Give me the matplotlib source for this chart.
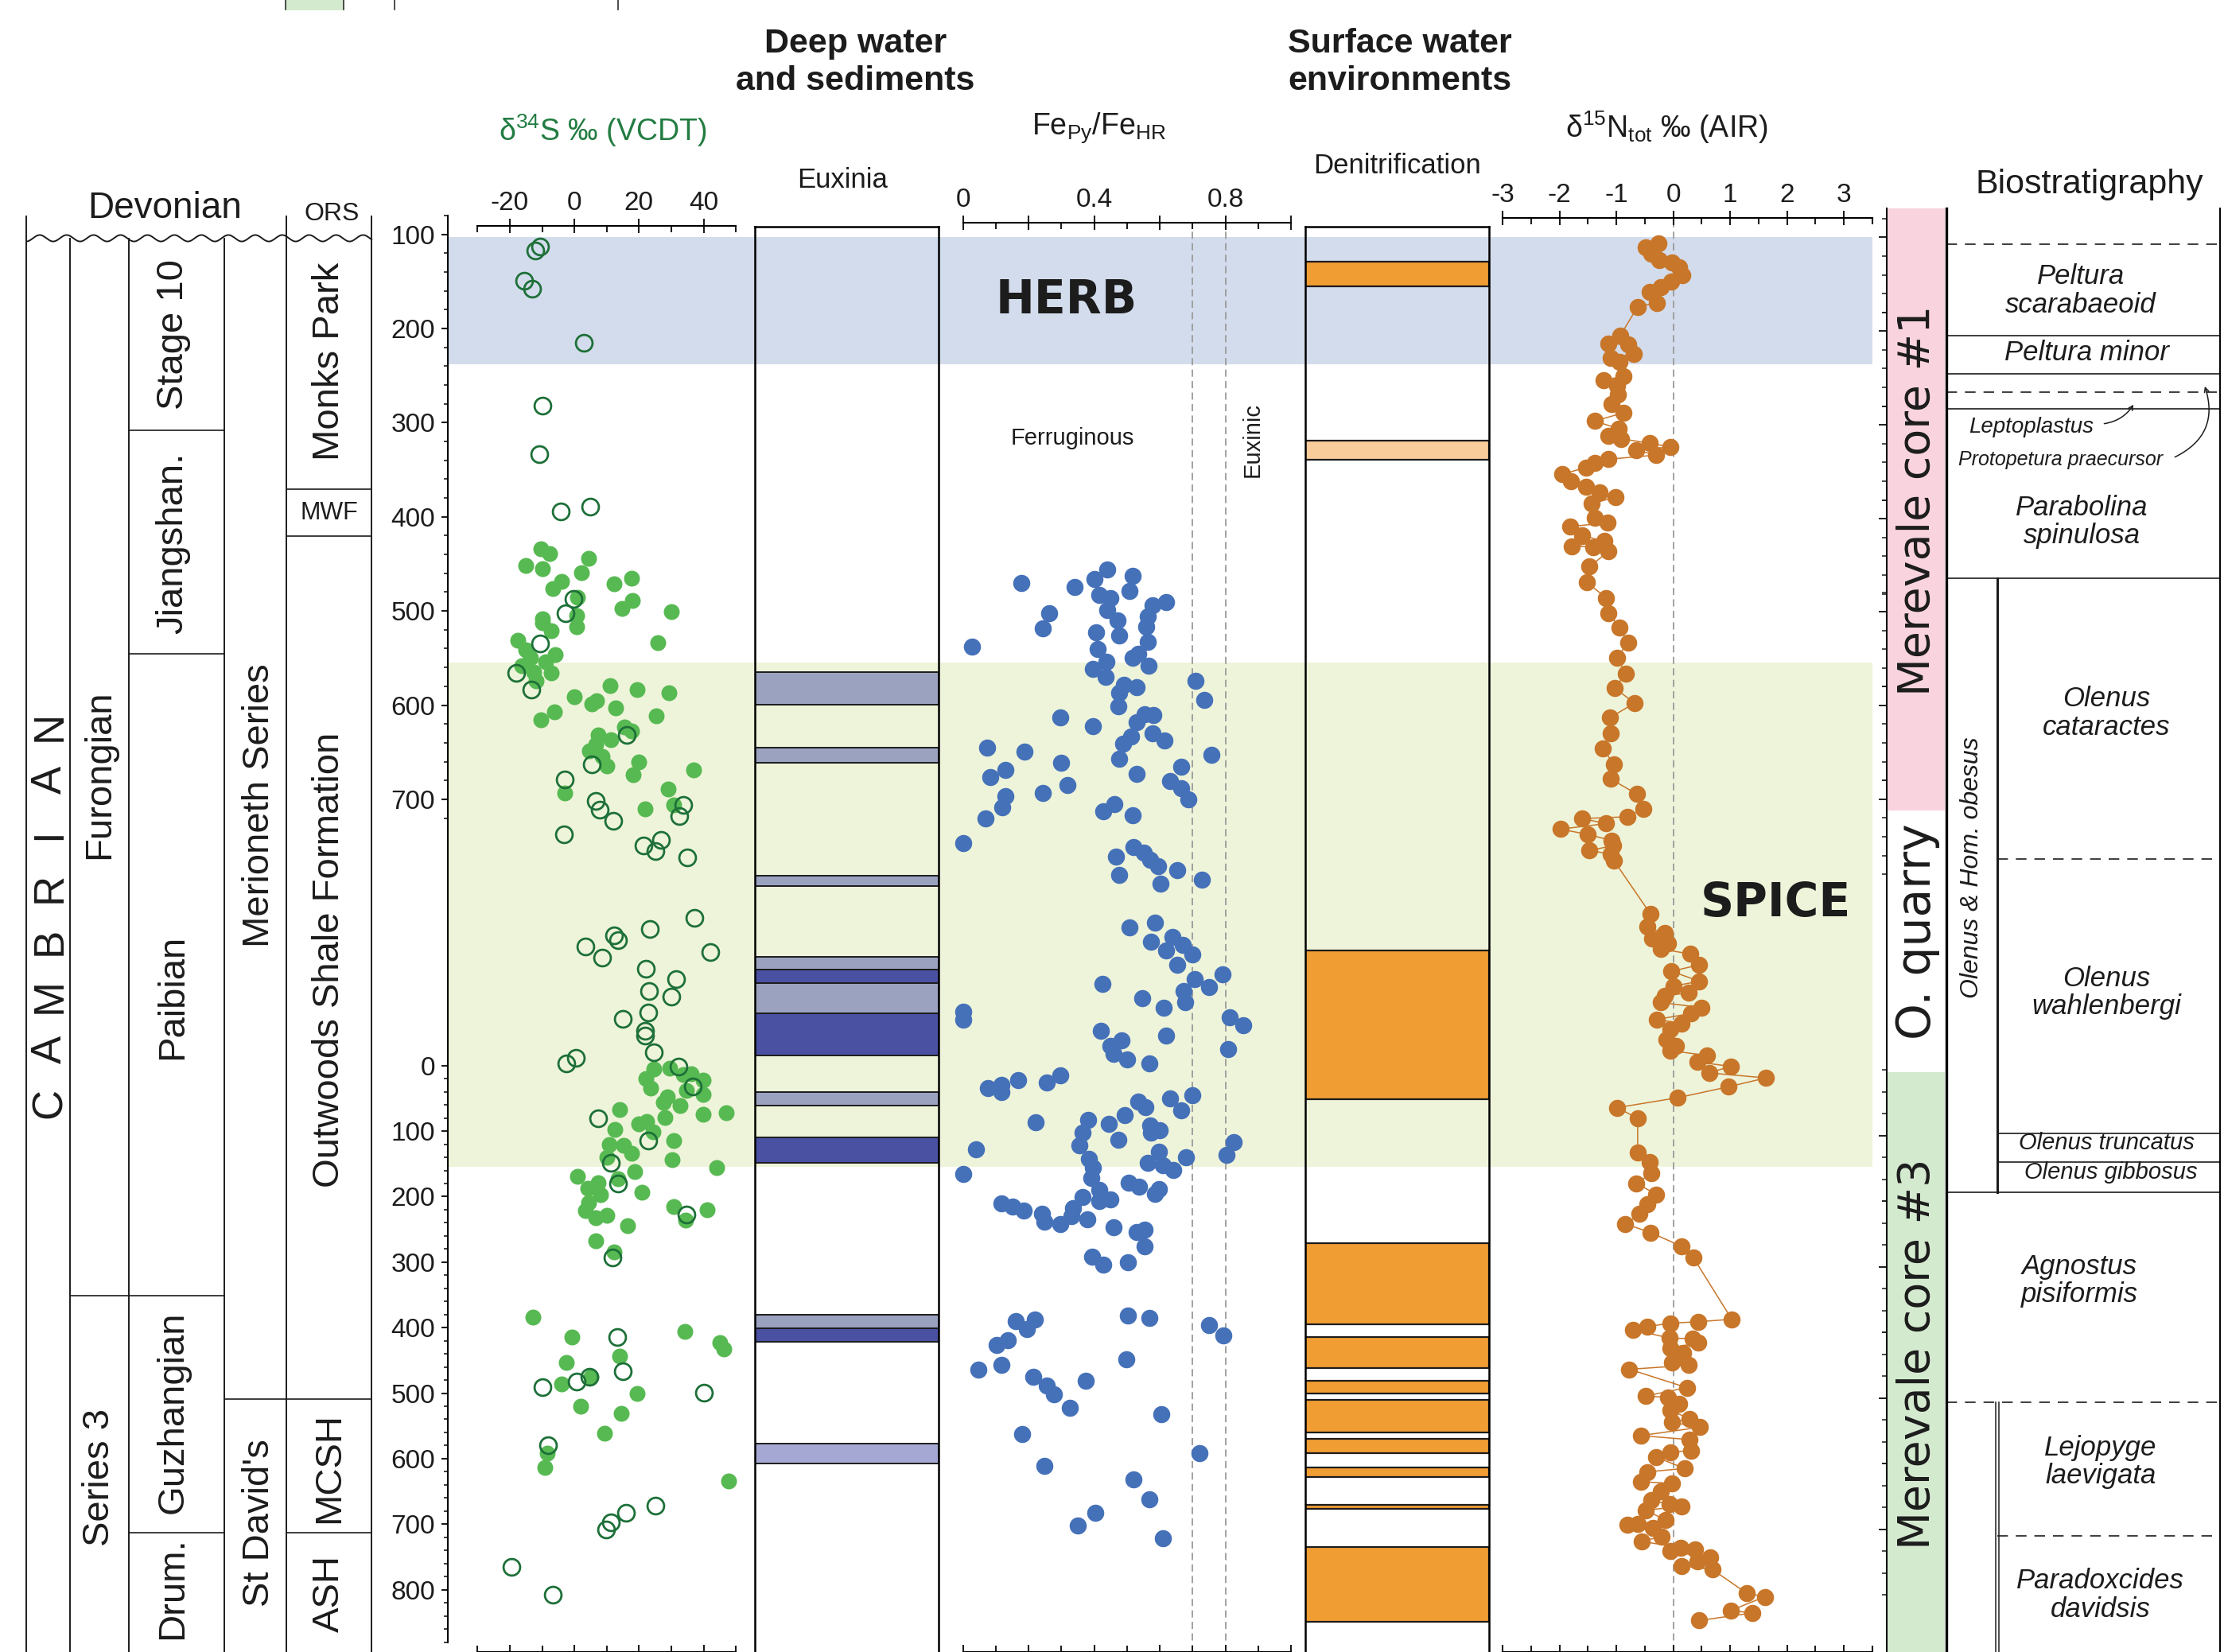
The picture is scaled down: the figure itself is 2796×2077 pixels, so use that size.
import numpy as np
import matplotlib.pyplot as plt

plt.rcParams['font.family'] = ['Liberation Sans', 'DejaVu Sans']
plt.rcParams['axes.unicode_minus'] = False
plt.rcParams['mathtext.fontset'] = 'custom'
plt.rcParams['mathtext.rm'] = 'Liberation Sans'
plt.rcParams['mathtext.it'] = 'Liberation Sans:italic'
plt.rcParams['text.color'] = '#1c1c1c'

# ---------------------------------------------------------------------------
# depth scale: upper section (Merevale core #1, quarry) plotted in its own
# units; lower section (Merevale core #3) has its own 0-800 scale
def lo(d):
    return 982.9 + 0.6958 * np.asarray(d, dtype=float)

depth_up_ticks = [100, 200, 300, 400, 500, 600, 700]
depth_lo_ticks = [0, 100, 200, 300, 400, 500, 600, 700, 800]

# event bands
herb = (107.5, 242.2)
spice = (556.4, float(lo(152.7)))

# d34S (depth, permil)  -- filled = pyrite, open = second phase
s34_fill_up = np.array([
    [437, -10.5], [442, -7.6], [454, -15], [458, -9.8], [446.5, 4.5], [462, 2.2], [471, -4.1],
    [479, -6.8], [474, 12.4], [468, 17.6], [491, 17.9], [488, 1], [500, 14.7], [503, 30.1],
    [507, 0.6], [511, -10], [515, -10], [523, -7.2], [519, 0.6], [533, -17.6], [543, -15],
    [552, -13.7], [556, -8.8], [548, -6], [560, -16.2], [567, -12.5], [568, -7.2], [536, 25.9],
    [576, -11.8], [581, 11], [585, 19.4], [589, 29.4], [593, 0], [597, 6.9], [600, 5.5],
    [605, 12.7], [609, -6.2], [617, -10.5], [613, 25.3], [625, 15.5], [629, 17.7], [633, 7.4],
    [638, 11.2], [643, 6.7], [650, 4.7], [656, 8.7], [666, 10], [662, 19.9], [675, 18.1],
    [670, 36.9], [694, -3.1], [690, 29], [711, 22], [707, 30.8]])
s34_fill_lo = np.array([
    [4, 24.5], [2.5, 29.6], [18, 22.2], [12, 33.7], [11, 36.1], [21, 39.8], [33, 23.7], [37, 34.7],
    [42, 39.8], [46, 28.8], [55, 27.5], [60, 32.7], [66, 14.1], [73, 39.8], [70, 46.9], [77, 28],
    [87, 19.8], [84, 22.5], [99, 24.3], [96, 12.6], [113, 30.8], [118, 10.8], [120, 15.3],
    [132, 17.7], [138, 10], [142, 30.2], [154, 44.1], [160, 18.7], [170, 13.6], [167, 1],
    [176, 7.3], [185, 4.1], [191, 20.8], [194, 8], [207, 4.5], [219, 3.4], [229, 6.5], [226, 10.1],
    [213, 30.8], [217, 41], [233, 34.5], [242, 16.5], [264, 6.5], [282, 12.4], [380, -12.9],
    [411, -0.8], [402, 34.3], [419, 45.1], [429, 46.2], [439, 14.1], [449, -2.5], [482, -3.9],
    [471, 5.1], [496, 19.4], [516, 2], [526, 14.6], [557, 9.2], [586, -8.4], [608, -9.1],
    [629, 47.8]])
s34_open_up = np.array([
    [118, -10.6], [122, -12.1], [154, -15.5], [162, -13.2], [219, 2.8], [286, -9.9], [337, -10.9],
    [397, -4.3], [392, 4.9], [490, -0.4], [505, -2.7], [537, -10.6], [568, -18], [585, -13.3],
    [633, 16.3], [664, 5.5], [680, -3.1], [703, 6.5], [712, 7.9], [724, 12], [707, 33.7],
    [719, 32.6], [738, -3.3], [750, 21.4], [744, 26.7], [756, 25.1], [762, 34.9], [826, 37.1],
    [838, 23.4], [856, 3.3], [845, 12.2], [850, 13.5], [868, 8.6], [862, 42.2], [880, 22.2],
    [891, 31.6], [903, 23], [909, 30.1], [926, 22.8], [933, 15], [945, 22], [950, 22],
    [968, 24.7], [980, -2.5], [974, 0.4]])
s34_open_lo = np.array([
    [0, 32.2], [30, 36.7], [79, 7.4], [113, 22.8], [146, 11.4], [178, 13.4], [290, 11.8],
    [225, 34.6], [410, 13.2], [462, 14.9], [487, -9.8], [478, 0.6], [471, 4.7], [575, -8.2],
    [495, 40], [666, 25.2], [677, 15.9], [691, 11.2], [702, 9.8], [759, -19.6], [801, -6.8]])

# FePy/FeHR (depth, ratio)
fe_up = np.array([
    [472.7, .177], [477, .34], [468.4, .40], [458.5, .44], [465.4, .516], [481.3, .508],
    [485.6, .414], [488.6, .448], [496, .578], [493, .618], [505, .262], [501.5, .44],
    [520.7, .242], [512.6, .47], [508, .563], [518.6, .558], [525, .406], [528.5, .475],
    [535, .563], [540, .027], [542.6, .41], [555.5, .438], [552, .516], [547.8, .533],
    [559.8, .565], [563.6, .395], [572, .434], [575.7, .709], [580, .49], [583, .529],
    [588.5, .476], [595.8, .735], [602.7, .474], [615, .296], [623.7, .395], [611.3, .554],
    [612, .581], [620, .529], [634.4, .512], [631.4, .578], [638.7, .614], [642, .488],
    [646.4, .073], [650.7, .187], [658.4, .476], [654, .758], [662.7, .298], [666.6, .664],
    [670, .13], [677.3, .084], [674.3, .529], [681.6, .631], [685.9, .319], [689.3, .664],
    [701.3, .686], [694.5, .243], [698, .13], [709.5, .12], [706.5, .461], [713.7, .427],
    [718, .516], [721.5, .069], [747.4, 0], [761.7, .467], [751.3, .519], [757, .55],
    [764.5, .571], [771.5, .595], [781, .476], [776, .652], [785.7, .728], [790.3, .601],
    [836, .508], [831, .584], [851, .574], [846, .639], [860.6, .62], [854.7, .669], [865, .70],
    [876, .652], [890.5, .707], [885.4, .792], [896, .425], [899.4, .751], [903.4, .671],
    [915, .677], [910.6, .546], [921, .612], [925.5, 0], [934, 0], [930.7, .814], [939.8, .855],
    [945, .42], [950, .62], [955.3, .484], [961, .45], [969.5, .459], [975.4, .499],
    [965, .808], [980, .569]])
fe_lo = np.array([
    [33, .075], [38.6, .118], [27.7, .118], [20.5, .167], [24.8, .256], [13.3, .297],
    [53.8, .533], [61.3, .557], [48.9, .631], [43.9, .70], [66.2, .664], [84.4, .222],
    [80.8, .382], [86.9, .444], [74.4, .493], [101, .364], [119.9, .355], [111, .474], [90, .571],
    [96.7, .599], [101, .574], [115, .825], [134, .803], [130, .597], [138.4, .68], [125.8, .039],
    [140.5, .383], [146.3, .563], [149.6, .608], [156.8, .641], [162.9, 0], [153, .397],
    [169.5, .392], [187.7, .414], [177, .505], [182, .537], [193, .584], [185.8, .597],
    [197.6, .365], [204, .414], [201.6, .448], [208.4, .118], [212.5, .15], [219.2, .186],
    [223.4, .241], [235.4, .247], [239.7, .296], [214.7, .336], [226.6, .33], [231.6, .378],
    [243.8, .458], [251, .529], [247.4, .554], [272.7, .554], [288.3, .393], [300.9, .427],
    [296.8, .502], [386, .16], [383.6, .219], [399, .195], [378, .503], [382, .569], [392, .751],
    [407.8, .794], [423, .103], [415, .137], [460.3, .046], [453, .116], [444, .497], [471, .213],
    [483.5, .255], [497.5, .277], [476.6, .374], [518, .326], [528, .605], [557.8, .18],
    [586.7, .72], [606.5, .247], [627, .519], [657, .569], [676.7, .404], [695.8, .349],
    [715.6, .609]])
fe_thresholds = [0.7, 0.8]

# d15N (depth, permil)
n15_up = np.array([
    [114.6, -.255], [118.9, -.49], [125, -.39], [132, -.24], [134.8, -.02], [139.6, .1],
    [148.2, .16], [155, -.03], [161, -.22], [166, -.42], [177, -.29], [181.3, -.625],
    [211.6, -.93], [220.2, -1.14], [221.2, -.79], [230.8, -.69], [235.6, -1.1], [239.4, -.94],
    [254.8, -.87], [258.6, -1.23], [264.4, -.98], [274, -.97], [283.6, -1.08], [293.2, -.87],
    [301.8, -1.38], [310, -.96], [317.2, -1.14], [320.6, -.91], [325.4, -.41], [329.2, -.05],
    [332.6, -.65], [337.8, -.3], [342.2, -1.14], [346, -1.38], [350.8, -1.53], [358, -1.95],
    [365.2, -1.8], [371.5, -1.53], [377.2, -1.3], [382, -1.01], [389.2, -1.43], [403.6, -1.38],
    [409.4, -1.16], [413.2, -1.81], [422.8, -1.6], [428.6, -1.21], [433.9, -1.79], [434.8, -1.4],
    [439.6, -1.14], [455.5, -1.47], [471.8, -1.52], [488.6, -1.18], [504.4, -1.14],
    [519.8, -.95], [535.6, -.79], [551.5, -.99], [568.3, -.83], [583.6, -1.03], [599.5, -.68],
    [614.9, -1.11], [631.6, -1.1], [647.5, -1.24], [664.3, -1.04], [679.6, -1.1], [695.5, -.64],
    [710.8, -.52], [719.5, -.81], [721.4, -1.6], [726.7, -1.18], [732.5, -1.98], [738.2, -1.5],
    [744.5, -1.08], [750.2, -1.06], [755, -1.48], [758.9, -1.1], [766, -1.04], [822, -.40],
    [835.6, -.46], [842.5, -.15], [847.6, -.37], [852.8, -.09], [859, -.22], [864.3, .30],
    [875.8, .45], [882.6, -.03], [893, .46], [898.3, 0], [905, .27], [908.8, -.15],
    [915.5, -.22], [920.8, .50], [927, .32], [933.4, -.29], [937.6, .15], [943.8, -.05],
    [954.8, -.12], [961, .05], [966.2, -.05], [971.5, .60], [978.3, .43]])
n15_lo = np.array([
    [0, 1.01], [9.9, .63], [17.5, 1.63], [31, .97], [47.5, .08], [62.5, -.98], [79, -.625],
    [130.2, -.625], [145.2, -.42], [162.5, -.39], [177.3, -.645], [194, -.30], [209, -.46],
    [224, -.59], [239, -.84], [251.9, -.40], [273, .15], [289.5, .35], [383.5, 1.03],
    [387.3, .44], [389.5, -.05], [394.7, -.46], [399.2, -.71], [412, -.07], [413, .34],
    [419.5, .44], [427, -.05], [434.3, .18], [442, .05], [449.5, -.02], [453.3, .27],
    [459.4, -.77], [487.2, .24], [502, -.09], [500, -.49], [512, .10], [521, -.05], [534.5, .28],
    [547.3, .47], [539.8, -.02], [560, -.57], [566, .28], [582.6, .32], [585, -.05],
    [592.5, -.30], [609.8, .20], [615, -.46], [630, -.57], [632.3, -.02], [645, -.22],
    [658, -.39], [664, -.07], [667.6, .15], [673, -.49], [688, -.13], [695.6, -.81],
    [694, -.625], [700, -.36], [720.3, -.56], [713, -.20], [735.5, -.05], [730, .13], [733, .38],
    [757.8, .15], [750.3, .42], [745, .65], [763, .69], [799, 1.29], [804.4, 1.61],
    [825.3, 1.01], [829, 1.39], [840.4, .46]])

# euxinia intervals (top, bottom) and kind: L = intermittent, D = persistent, P = pale
eux_top = [566.9, 646.2, 781.5, 867.7, 880.8, 895.3, 926.9] + list(lo([39.4, 107.1, 376.3, 397.2, 572]))
eux_bot = [601.3, 662.2, 793, 880.8, 895.3, 926.9, 971.8] + list(lo([60, 146.7, 397.2, 417.8, 602.8]))
eux_kind = ['L', 'L', 'L', 'L', 'D', 'L', 'D', 'L', 'D', 'L', 'D', 'P']

# denitrification intervals
den_top = [133.5, 322.2, 861.0] + list(lo([268.2, 410.7, 476.3, 505.8, 564.9, 608.6, 664.5, 729]))
den_bot = [159.4, 342.9] + list(lo([49.5, 391.4, 458, 495.7, 554.8, 587, 622.8, 671.6, 842.4]))
den_kind = ['O', 'P', 'O', 'O', 'O', 'O', 'O', 'O', 'O', 'O', 'O']

# stratigraphic boundaries
core1 = (77.6, 712.9)
core3 = (float(lo(8.6)), float(lo(900)))
stage_bounds = [311.7, 547.7]                 # Stage 10 / Jiangshan / Paibian
fm_bounds = [373.4, 423.0]                    # Monks Park / MWF / Outwoods
series3_top = float(lo(347.7))               # Furongian / Series 3
stdavids_top = float(lo(504.7))              # Merioneth / St David's
drum_top = float(lo(706.7))                  # Guzhangian / Drum., MCSH / ASH
bio_solid_full = [211.5, 252.0, 289.0, 467.8, float(lo(191.4))]
bio_dash_full = [115.0, 271.2, float(lo(509))]
bio_solid_inner = [float(lo(102)), float(lo(144.8))]
bio_dash_inner = [763.8, float(lo(711.8))]
ruler_up_major = [108, 207, 306, 405, 503, 602, 701]
ruler_lo_major = [105, 304, 503, 702]

# ---------------------------------------------------------------------------
BLUE_BAND, GREEN_BAND = '#d3dcec', '#eef4da'
S_FILL, S_OPEN, S_TITLE = '#57b952', '#1d7038', '#237c42'
FE_COL, N_COL = '#4571b9', '#c87629'
EUX_COL = {'L': '#9ba2c0', 'D': '#4a51a2', 'P': '#a4a8d3'}
DEN_COL = {'O': '#f09d34', 'P': '#f8cc9b'}
PINK, CORE_GREEN = '#f9d4de', '#d4eacf'
INK = '#1c1c1c'

fig = plt.figure(figsize=(27.96, 20.77), dpi=100)
VW, VH = 1568, 1165   # layout measured on a 1568 x 1165 view


def rect(x0, y0, x1, y1):
    return [x0 / VW, 1 - y1 / VH, (x1 - x0) / VW, (y1 - y0) / VH]


def comp(y):
    return 100 + (y - 162) * 1.4964


def dax(x0, y0, x1, y1=VH):
    ax = fig.add_axes(rect(x0, y0, x1, y1))
    ax.set_ylim(comp(y1), comp(y0))
    ax.patch.set_visible(False)
    return ax


def ftext(x, y, s, **kw):
    kw.setdefault('ha', 'center')
    kw.setdefault('va', 'center')
    fig.text(x / VW, 1 - y / VH, s, **kw)


def x_scale(ax, a, b, major, labels, minor):
    for s in ('left', 'right'):
        ax.spines[s].set_visible(False)
    for s in ('top', 'bottom'):
        ax.spines[s].set_bounds(a, b)
        ax.spines[s].set_linewidth(1.5)
    ax.set_xticks(major)
    ax.set_xticklabels(labels)
    ax.set_xticks(minor, minor=True)
    ax.set_yticks([])
    ax.tick_params(axis='x', which='both', top=True, bottom=True, labeltop=True,
                   labelbottom=False, width=1.5, labelsize=24, colors=INK)
    ax.tick_params(axis='x', which='major', direction='inout', length=13, pad=3)
    ax.tick_params(axis='x', which='minor', direction='in', length=6)


# cropped strip of the panel above
top = fig.add_axes([0, 0, 1, 1])
top.set_xlim(0, VW)
top.set_ylim(VH, 0)
top.axis('off')
top.fill_between([201.5, 242.5], 0, 7.3, color=CORE_GREEN, lw=0)
for xx in (201.5, 242.5, 278, 436):
    top.plot([xx, xx], [0, 7], color=INK, lw=1.1)

# event bands
bg = dax(316, 152, 1320)
bg.set_xlim(0, 1)
bg.axis('off')
bg.axhspan(*herb, color=BLUE_BAND, lw=0)
bg.axhspan(*spice, color=GREEN_BAND, lw=0)

# depth axis
ad = dax(316, 152, 330, 1158)
for s in ('top', 'right', 'bottom'):
    ad.spines[s].set_visible(False)
ad.spines['left'].set_linewidth(1.5)
ad.set_xticks([])
ad.set_yticks(depth_up_ticks + list(lo(depth_lo_ticks)))
ad.set_yticklabels([str(t) for t in depth_up_ticks + depth_lo_ticks])
minor_up = [t for t in range(80, 740, 20) if t % 100]
minor_lo = [t for t in range(20, 900, 20) if t % 100]
ad.set_yticks(minor_up + list(lo(minor_lo)), minor=True)
ad.tick_params(axis='y', which='major', direction='out', length=6, width=1.5,
               labelsize=24, pad=6, colors=INK)
ad.tick_params(axis='y', which='minor', direction='out', length=3.5, width=1.2, colors=INK)

# d34S
a1 = dax(316, 159.5, 532)
a1.set_xlim(-39.1, 55.8)
x_scale(a1, -30, 50, [-20, 0, 20, 40], ['-20', '0', '20', '40'], [-30, -10, 10, 30, 50])
a1.plot(np.r_[s34_fill_up[:, 1], s34_fill_lo[:, 1]],
        np.r_[s34_fill_up[:, 0], lo(s34_fill_lo[:, 0])],
        'o', ms=14.4, color=S_FILL, mec='none', zorder=3)
a1.plot(np.r_[s34_open_up[:, 1], s34_open_lo[:, 1]],
        np.r_[s34_open_up[:, 0], lo(s34_open_lo[:, 0])],
        'o', ms=15, mfc='none', mec=S_OPEN, mew=2.0, zorder=4)

# euxinia column
ae = dax(532, 160, 662)
ae.set_xlim(0, 1)
ae.set_xticks([])
ae.set_yticks([])
ae.spines['bottom'].set_visible(False)
for s in ('left', 'right', 'top'):
    ae.spines[s].set_linewidth(1.8)
for t, b, k in zip(eux_top, eux_bot, eux_kind):
    ae.axhspan(t, b, facecolor=EUX_COL[k], edgecolor=INK, lw=1.4)

# Fe speciation
af = dax(662, 157, 920)
af.set_xlim(-0.0735, 1.042)
x_scale(af, 0, 1, [0, 0.2, 0.4, 0.6, 0.8, 1.0], ['0', '', '0.4', '', '0.8', ''],
        [0.1, 0.3, 0.5, 0.7, 0.9])
for th in fe_thresholds:
    af.axvline(th, color='#9a9a9a', lw=1.3, ls=(0, (5, 3)), zorder=1)
af.plot(np.r_[fe_up[:, 1], fe_lo[:, 1]], np.r_[fe_up[:, 0], lo(fe_lo[:, 0])],
        'o', ms=15.5, color=FE_COL, mec='none', zorder=3)

# denitrification column
an = dax(920, 160, 1050)
an.set_xlim(0, 1)
an.set_xticks([])
an.set_yticks([])
an.spines['bottom'].set_visible(False)
for s in ('left', 'right', 'top'):
    an.spines[s].set_linewidth(1.8)
for t, b, k in zip(den_top, den_bot, den_kind):
    an.axhspan(t, b, facecolor=DEN_COL[k], edgecolor=INK, lw=1.6)

# d15N
aN = dax(1050, 153.9, 1320)
aN.set_xlim(-3.234, 3.483)
x_scale(aN, -3, 3.5, [-3, -2, -1, 0, 1, 2, 3], ['-3', '-2', '-1', '0', '1', '2', '3'],
        [-2.5, -1.5, -0.5, 0.5, 1.5, 2.5, 3.5])
aN.axvline(0, color='#9a9a9a', lw=1.3, ls=(0, (5, 3)), zorder=1)
nd = np.r_[n15_up[:, 0], lo(n15_lo[:, 0])]
nv = np.r_[n15_up[:, 1], n15_lo[:, 1]]
order = np.argsort(nd)
aN.plot(nv[order], nd[order], '-', color=N_COL, lw=1.1, zorder=2)
aN.plot(nv, nd, 'o', ms=15.5, color=N_COL, mec='none', zorder=3)

# core ruler and core labels
ar = dax(1330, 147, 1331)
for s in ('top', 'right', 'bottom'):
    ar.spines[s].set_visible(False)
ar.spines['left'].set_linewidth(1.5)
ar.set_xticks([])
ar.set_yticks(ruler_up_major + list(lo(ruler_lo_major)))
ar.set_yticklabels([])
r_minor = [m + 19.8 * i for m in ruler_up_major for i in (-1, 1, 2, 3, 4)]
r_minor += list(lo([m + 33.2 * i for m in ruler_lo_major for i in (-3, -2, -1, 1, 2, 3)]))
ar.set_yticks(r_minor, minor=True)
ar.tick_params(axis='y', which='major', direction='out', length=7, width=1.4, colors=INK)
ar.tick_params(axis='y', which='minor', direction='out', length=4, width=1.1, colors=INK)

ac = dax(1331, 147, 1371)
ac.set_xlim(0, 1)
ac.axis('off')
ac.axhspan(*core1, color=PINK, lw=0)
ac.axhspan(*core3, color=CORE_GREEN, lw=0)

# biostratigraphy table
ab = dax(1372, 147, 1565)
ab.set_xlim(0, 1)
ab.set_xticks([])
ab.set_yticks([])
ab.spines['top'].set_visible(False)
ab.spines['bottom'].set_visible(False)
ab.spines['left'].set_linewidth(2.4)
ab.spines['right'].set_linewidth(1.4)
inner = (1408 - 1372) / (1565 - 1372)
for y in bio_solid_full:
    ab.axhline(y, color=INK, lw=1.2)
for y in bio_dash_full:
    ab.axhline(y, color=INK, lw=1.2, ls=(0, (8, 6)))
for y in bio_solid_inner:
    ab.axhline(y, xmin=inner, color=INK, lw=1.2)
for y in bio_dash_inner:
    ab.axhline(y, xmin=inner, color=INK, lw=1.2, ls=(0, (8, 6)))
ab.plot([inner, inner], [bio_solid_full[3], bio_solid_full[4]], color=INK, lw=2.2)
ab.plot([inner - 0.006, inner - 0.006], [bio_dash_full[2], comp(VH)], color=INK, lw=1.1)
ab.plot([inner + 0.006, inner + 0.006], [bio_dash_full[2], comp(VH)], color=INK, lw=1.1)

# left stratigraphic columns
al = dax(15, 152, 265)
al.set_xlim(15, 265)
al.axis('off')
wave_y = comp(168)
xs = np.linspace(18.5, 262, 400)
al.plot(xs, wave_y + 3.4 * np.sin((xs - 18.5) / 19 * 2 * np.pi + np.pi / 2), color=INK, lw=1.4)
for xx in (18.5, 202, 262):
    al.plot([xx, xx], [comp(152), comp(VH)], color=INK, lw=1.4)
for xx in (49.5, 91, 158):
    al.plot([xx, xx], [wave_y, comp(VH)], color=INK, lw=1.4)
for y in stage_bounds:
    al.plot([91, 158], [y, y], color=INK, lw=1.2)
for y in fm_bounds:
    al.plot([202, 262], [y, y], color=INK, lw=1.2)
al.plot([49.5, 158], [series3_top] * 2, color=INK, lw=1.2)
al.plot([158, 262], [stdavids_top] * 2, color=INK, lw=1.2)
al.plot([91, 158], [drum_top] * 2, color=INK, lw=1.2)
al.plot([202, 262], [drum_top] * 2, color=INK, lw=1.2)

# ---------------------------------------------------------------------------
# text
ftext(603, 44, 'Deep water\nand sediments', fontsize=31, fontweight='bold', linespacing=1.25)
ftext(987, 44, 'Surface water\nenvironments', fontsize=31, fontweight='bold', linespacing=1.25)
ftext(425, 92, 'δ$^{34}$S ‰ (VCDT)', fontsize=27, color=S_TITLE)
ftext(775, 90, 'Fe$_{\\mathregular{Py}}$/Fe$_{\\mathregular{HR}}$', fontsize=27)
ftext(1175, 90, 'δ$^{15}$N$_{\\mathregular{tot}}$ ‰ (AIR)', fontsize=27)
ftext(594, 127, 'Euxinia', fontsize=25)
ftext(985, 117, 'Denitrification', fontsize=25)
ftext(1473, 130, 'Biostratigraphy', fontsize=31)
ftext(116, 147, 'Devonian', fontsize=33)
ftext(234, 151, 'ORS', fontsize=23)

ftext(752, 212, 'HERB', fontsize=42, fontweight='bold', family=['DejaVu Sans'])
ftext(1252, 637, 'SPICE', fontsize=42, fontweight='bold', family=['DejaVu Sans'])
ftext(756, 309, 'Ferruginous', fontsize=21)
ftext(883, 310, 'Euxinic', fontsize=21, rotation=90)

for ch, yy in zip('CAMBRIAN', [778, 740, 702, 664, 626, 588, 550, 512]):
    ftext(35, yy, ch, fontsize=38, rotation=90)
col_labels = [
    (70, 546, 'Furongian'), (70, 1042, 'Series 3'),
    (122, 236, 'Stage 10'), (122, 383, 'Jiangshan.'), (122, 703, 'Paibian'),
    (122, 996, 'Guzhangian'), (122, 1120, 'Drum.'),
    (183, 568, 'Merioneth Series'), (183, 1074, "St David's"),
    (232, 255, 'Monks Park'), (232, 677, 'Outwoods Shale Formation'),
    (232, 1035, 'MCSH'), (232, 1124, 'ASH')]
for xx, yy, s in col_labels:
    ftext(xx, yy, s, fontsize=34, rotation=90)
ftext(232, 362, 'MWF', fontsize=22)

for yy, s, fs in [(353, 'Merevale core #1', 40), (657, 'O. quarry', 42), (955, 'Merevale core #3', 40)]:
    ftext(1352, yy, s, fontsize=fs, rotation=90, family=['DejaVu Sans'])

bio_labels = [
    (1467, 205, 'Peltura\nscarabaeoid', 25), (1471, 249, 'Peltura minor', 25),
    (1468, 368, 'Parabolina\nspinulosa', 25), (1485, 503, 'Olenus\ncataractes', 25),
    (1485, 700, 'Olenus\nwahlenbergi', 25), (1485, 806, 'Olenus truncatus', 21),
    (1488, 827, 'Olenus gibbosus', 21), (1466, 903, 'Agnostus\npisiformis', 25),
    (1481, 1031, 'Lejopyge\nlaevigata', 25), (1481, 1125, 'Paradoxcides\ndavidsis', 25)]
for xx, yy, s, fs in bio_labels:
    ftext(xx, yy, s, fontsize=fs, fontstyle='italic', linespacing=1.1)
ftext(1432, 301, 'Leptoplastus', fontsize=20, fontstyle='italic')
ftext(1453, 324, 'Protopetura praecursor', fontsize=18, fontstyle='italic')
ftext(1390, 612, 'Olenus & Hom. obesus', fontsize=23, fontstyle='italic', rotation=90)

top.annotate('', xy=(1505, 284), xytext=(1482, 299),
             arrowprops=dict(arrowstyle='->', color=INK, lw=1.1,
                             connectionstyle='arc3,rad=0.25'))
top.annotate('', xy=(1554, 271), xytext=(1532, 323),
             arrowprops=dict(arrowstyle='->', color=INK, lw=1.1,
                             connectionstyle='arc3,rad=0.45'))

fig.savefig('out.png', dpi=100)
